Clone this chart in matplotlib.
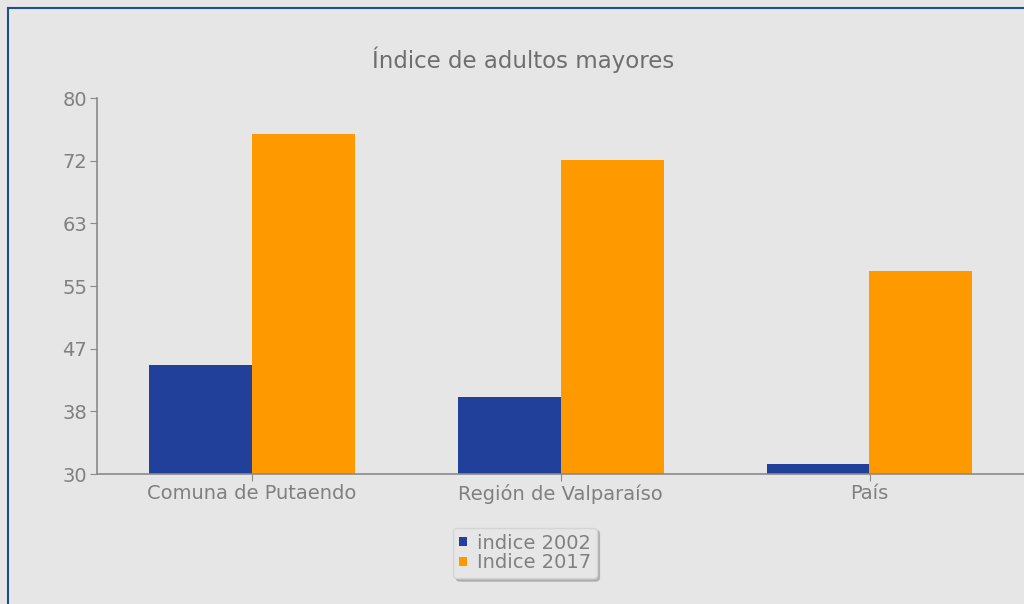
import numpy as np
import matplotlib
matplotlib.use("Agg")
import matplotlib.pyplot as plt

# data
categories = ["Comuna de Putaendo", "Región de Valparaíso", "País"]
indice_2002 = [44.5, 40.2, 31.3]
indice_2017 = [75.2, 71.8, 57.0]
series_labels = ["indice 2002", "Indice 2017"]
y_ticks = [30, 38.33, 46.67, 55, 63.33, 71.67, 80]
y_tick_labels = ["30", "38", "47", "55", "63", "72", "80"]

blue = "#21409a"
orange = "#ff9900"
text_grey = "#808080"
bg = "#e6e6e6"

fig = plt.figure(figsize=(10.24, 6.04), dpi=100)
fig.patch.set_facecolor(bg)

# blue frame on the top and left edges
fig.add_artist(plt.Line2D([8 / 1024, 8 / 1024], [0, 1 - 8 / 604],
                          transform=fig.transFigure, color="#1f4e8c", lw=1.5))
fig.add_artist(plt.Line2D([8 / 1024, 1], [1 - 8 / 604, 1 - 8 / 604],
                          transform=fig.transFigure, color="#1f4e8c", lw=1.5))

ax = fig.add_axes([97 / 1024, 1 - 474 / 604, 1 - 97 / 1024, (474 - 98) / 604])
ax.set_facecolor("none")

x = np.arange(len(categories))
w = 1 / 3
ax.bar(x - w / 2, np.array(indice_2002) - 30, w, bottom=30, color=blue,
       label=series_labels[0])
ax.bar(x + w / 2, np.array(indice_2017) - 30, w, bottom=30, color=orange,
       label=series_labels[1])

ax.set_xlim(-0.5, 2.5)
ax.set_ylim(30, 80)
ax.set_yticks(y_ticks)
ax.set_yticklabels(y_tick_labels)
ax.set_xticks(x)
ax.set_xticklabels(categories)

for s in ["top", "right"]:
    ax.spines[s].set_visible(False)
for s in ["left", "bottom"]:
    ax.spines[s].set_color("#8a8a8a")
    ax.spines[s].set_linewidth(1.2)
ax.tick_params(axis="both", colors="#8a8a8a", labelcolor=text_grey,
               labelsize=14, length=5)
ax.tick_params(axis="x", pad=2)
ax.tick_params(axis="y", pad=2)

fig.text(523 / 1024, 1 - 60 / 604, "Índice de adultos mayores",
         ha="center", va="center", fontsize=16.5, color="#6e6e6e")

leg = fig.legend(loc="center", bbox_to_anchor=(525 / 1024, 1 - 553 / 604),
                 frameon=True, fontsize=14, handlelength=0.4, handleheight=0.4,
                 handletextpad=0.5, labelspacing=0.05, borderpad=0.3,
                 fancybox=True,
                 shadow={"color": "#9a9a9a", "alpha": 0.6, "ox": 2, "oy": -2})
leg.get_frame().set_facecolor(bg)
leg.get_frame().set_edgecolor("#d4d4d4")
for t in leg.get_texts():
    t.set_color(text_grey)

fig.savefig("out.png", dpi=100, facecolor=bg)
